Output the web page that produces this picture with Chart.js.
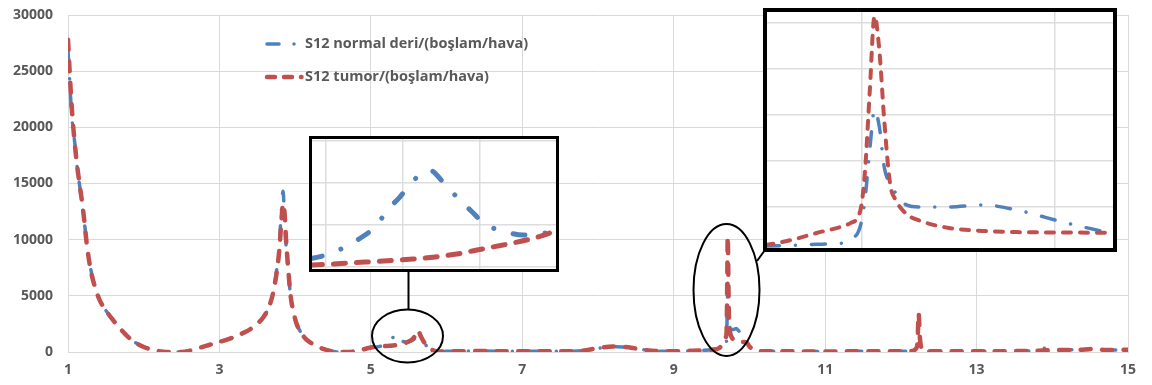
<!DOCTYPE html>
<html>
<head>
<meta charset="utf-8">
<script src="https://cdn.jsdelivr.net/npm/chart.js@4.4.1/dist/chart.umd.min.js"></script>
<style>
  html, body { margin: 0; padding: 0; background: #ffffff; }
  #wrap { position: relative; width: 1152px; height: 385px; }
  #main { position: absolute; left: 0; top: 0; }
  .inset { position: absolute; background: #ffffff; border: solid #000000; box-sizing: border-box; }
  .inset canvas { display: block; }
</style>
</head>
<body>
<div id="wrap">
  <canvas id="main" width="1152" height="385"></canvas>
  <div class="inset" id="box1" style="left:309px;top:136px;width:250px;height:136px;border-width:3px;">
    <canvas id="ins1" width="244" height="130"></canvas>
  </div>
  <div class="inset" id="box2" style="left:763px;top:8px;width:354px;height:244px;border-width:4px;">
    <canvas id="ins2" width="346" height="236"></canvas>
  </div>
</div>
<script>
// ---- data ----
const seriesNames = ["S12 normal deri/(boşlam/hava)", "S12 tumor/(boşlam/hava)"];

const xValues = [
  1.00, 1.02, 1.04, 1.06, 1.09, 1.12, 1.16, 1.20, 1.25, 1.30,
  1.36, 1.42, 1.50, 1.60, 1.70, 1.80, 1.90, 2.00, 2.10, 2.20,
  2.30, 2.40, 2.50, 2.60, 2.70, 2.80, 2.90, 3.00, 3.10, 3.20,
  3.30, 3.40, 3.50, 3.58, 3.64, 3.70, 3.75, 3.79, 3.82, 3.84,
  3.86, 3.88, 3.91, 3.94, 3.98, 4.02, 4.08, 4.15, 4.25, 4.35,
  4.45, 4.55, 4.70, 4.85, 5.00, 5.10, 5.18, 5.20, 5.225, 5.245,
  5.265, 5.28, 5.296, 5.313, 5.335, 5.352, 5.37, 5.39, 5.406, 5.43,
  5.456, 5.48, 5.50, 5.55, 5.59, 5.62, 5.66, 5.70, 5.75, 5.82,
  5.90, 6.00, 6.50, 7.00, 7.50, 7.80, 8.00, 8.20, 8.40, 8.60,
  8.80, 9.00, 9.20, 9.40, 9.50, 9.60, 9.63, 9.653, 9.679, 9.688,
  9.698, 9.703, 9.708, 9.713, 9.718, 9.723, 9.729, 9.735, 9.746, 9.76,
  9.79, 9.825, 9.86, 9.912, 9.943, 9.96, 10.00, 10.05, 10.10, 10.50,
  11.00, 11.50, 12.00, 12.15, 12.20, 12.22, 12.235, 12.25, 12.27, 12.32,
  12.50, 13.00, 13.50, 13.80, 13.96, 14.10, 14.40, 14.57, 14.70, 15.00
];

const normalValues = [
  26800, 24500, 22000, 20200, 18600, 16500, 14500, 12400, 9700, 7400,
  5700, 4600, 3700, 2800, 2000, 1300, 800, 450, 220, 80,
  10, 0, 0, 100, 300, 500, 700, 900, 1100, 1350,
  1650, 2000, 2500, 3100, 3800, 5000, 7000, 9500, 12800, 14300,
  12000, 9500, 7100, 5000, 3500, 2500, 1700, 1100, 650, 330,
  120, 10, 0, 150, 400, 480, 600, 643, 738, 845,
  988, 1179, 1333, 1524, 1650, 1512, 1333, 1155, 1012, 929,
  881, 900, 920, 1050, 1250, 1350, 1100, 800, 450, 150,
  40, 60, 80, 60, 60, 120, 330, 480, 420, 200,
  80, 60, 100, 150, 200, 300, 340, 380, 430, 600,
  1130, 2300, 4480, 6220, 5480, 3740, 3000, 2600, 2090, 2000,
  2000, 2090, 1870, 1300, 1000, 850, 600, 220, 80, 60,
  50, 60, 60, 100, 280, 700, 2800, 1300, 380, 100,
  60, 60, 80, 120, 450, 200, 200, 250, 180, 200
];

const tumorValues = [
  27800, 25200, 22800, 20800, 18500, 16600, 14600, 12600, 9500, 7300,
  5700, 4600, 3700, 2800, 2000, 1300, 800, 450, 220, 80,
  10, 0, 0, 100, 300, 500, 700, 900, 1100, 1350,
  1650, 2000, 2500, 3100, 3800, 5000, 6800, 9000, 11800, 13200,
  12400, 10000, 7300, 5000, 3500, 2500, 1700, 1100, 650, 330,
  120, 10, 0, 150, 400, 480, 524, 530, 545, 555,
  565, 573, 583, 595, 612, 632, 655, 690, 720, 762,
  812, 870, 940, 1150, 1500, 1950, 1400, 900, 500, 150,
  40, 60, 80, 60, 60, 120, 350, 500, 420, 200,
  80, 60, 100, 150, 200, 350, 600, 870, 1150, 1300,
  1800, 3500, 7000, 10300, 8800, 5800, 3040, 2300, 1700, 1400,
  1090, 960, 910, 890, 880, 860, 500, 200, 80, 60,
  50, 60, 60, 100, 300, 800, 3450, 1400, 400, 100,
  60, 60, 80, 120, 150, 180, 200, 280, 180, 200
];

const xTicks = [1, 3, 5, 7, 9, 11, 13, 15];
const yTicks = [0, 5000, 10000, 15000, 20000, 25000, 30000];

// zoomed views (insets): visible ranges and their grid positions
const inset1XRange = [5.182, 5.4987];
const inset1YRange = [476, 2024];
const inset1XGrid = [5.2, 5.3, 5.4, 5.5];
const inset1YGrid = [500, 1000, 1500, 2000];
const inset2XRange = [9.6016, 9.960];
const inset2YRange = [217, 10478];
const inset2XGrid = [9.7, 9.9];
const inset2YGrid = [2000, 4000, 6000, 8000, 10000];

// ---- build ----
const BLUE = '#4f81bd';
const RED = '#c0504d';
const TEXT = '#595959';
const GRID = '#d9d9d9';

const normalPts = xValues.map((x, i) => ({ x: x, y: normalValues[i] }));
const tumorPts = xValues.map((x, i) => ({ x: x, y: tumorValues[i] }));

function makeDatasets(bw, bdash, rw, rdash) {
  return [
    { label: seriesNames[0], data: normalPts, borderColor: BLUE, borderWidth: bw,
      borderDash: bdash, borderCapStyle: 'round', borderJoinStyle: 'round',
      pointRadius: 0, cubicInterpolationMode: 'monotone', order: 1, fill: false },
    { label: seriesNames[1], data: tumorPts, borderColor: RED, borderWidth: rw,
      borderDash: rdash, borderCapStyle: 'round', borderJoinStyle: 'round',
      pointRadius: 0, cubicInterpolationMode: 'monotone', order: 0, fill: false }
  ];
}

const mainDash = { blue: [12, 16, 0.01, 16], red: [10, 11.5] };

const overlayPlugin = {
  id: 'overlay',
  afterDatasetsDraw(chart) {
    const ctx = chart.ctx;
    ctx.save();
    // legend
    const rows = [
      { y: 44, color: BLUE, width: 3.5, dash: [12, 15, 0.01, 30], x0: 267, x1: 296, text: seriesNames[0] },
      { y: 77, color: RED, width: 4.5, dash: [8, 9], x0: 267, x1: 301.5, text: seriesNames[1] }
    ];
    rows.forEach(r => {
      ctx.beginPath();
      ctx.strokeStyle = r.color;
      ctx.lineWidth = r.width;
      ctx.lineCap = 'round';
      ctx.setLineDash(r.dash);
      ctx.moveTo(r.x0, r.y);
      ctx.lineTo(r.x1, r.y);
      ctx.stroke();
      ctx.setLineDash([]);
      ctx.fillStyle = TEXT;
      ctx.font = 'bold 14.5px "Open Sans"';
      ctx.textBaseline = 'middle';
      ctx.textAlign = 'left';
      ctx.fillText(r.text, 305, r.y);
    });
    // ellipses and connectors
    ctx.strokeStyle = '#000000';
    ctx.lineWidth = 2;
    ctx.lineCap = 'butt';
    ctx.beginPath();
    ctx.ellipse(407.5, 336, 35.5, 26.5, 0, 0, Math.PI * 2);
    ctx.stroke();
    ctx.beginPath();
    ctx.moveTo(408.5, 309.5);
    ctx.lineTo(408.5, 271);
    ctx.stroke();
    ctx.beginPath();
    ctx.ellipse(726.5, 290, 33, 66, 0, 0, Math.PI * 2);
    ctx.stroke();
    ctx.beginPath();
    ctx.moveTo(757, 261);
    ctx.lineTo(765, 250);
    ctx.stroke();
    ctx.restore();
  }
};

new Chart(document.getElementById('main'), {
  type: 'line',
  data: { datasets: makeDatasets(3.5, mainDash.blue, 4.5, mainDash.red) },
  options: {
    responsive: false,
    animation: false,
    events: [],
    layout: { padding: { top: 15, right: 24, left: 0, bottom: 0 } },
    plugins: { legend: { display: false }, tooltip: { enabled: false } },
    scales: {
      x: {
        type: 'linear', min: 1, max: 15,
        afterBuildTicks: s => { s.ticks = xTicks.map(v => ({ value: v })); },
        afterFit: s => { s.height = 33; s.paddingLeft = 0; s.paddingRight = 0; },
        grid: { color: GRID, lineWidth: 1, drawTicks: false },
        border: { color: GRID, width: 1 },
        ticks: { color: TEXT, font: { family: '"Open Sans"', size: 14, weight: 'bold' }, padding: 10, maxRotation: 0,
                 callback: v => String(v) }
      },
      y: {
        type: 'linear', min: 0, max: 30000,
        afterBuildTicks: s => { s.ticks = yTicks.map(v => ({ value: v })); },
        afterFit: s => { s.width = 68; s.paddingTop = 0; s.paddingBottom = 0; },
        grid: { color: GRID, lineWidth: 1, drawTicks: false },
        border: { color: GRID, width: 1 },
        ticks: { color: TEXT, font: { family: '"Open Sans"', size: 14, weight: 'bold' }, padding: 15,
                 callback: v => String(v) }
      }
    }
  },
  plugins: [overlayPlugin]
});

function insetChart(id, xr, yr, xg, yg, bw, bdash, rw, rdash) {
  return new Chart(document.getElementById(id), {
    type: 'line',
    data: { datasets: makeDatasets(bw, bdash, rw, rdash) },
    options: {
      responsive: false,
      animation: false,
      events: [],
      layout: { padding: 0 },
      plugins: { legend: { display: false }, tooltip: { enabled: false } },
      scales: {
        x: {
          type: 'linear', min: xr[0], max: xr[1],
          afterBuildTicks: s => { s.ticks = xg.map(v => ({ value: v })); },
          afterFit: s => { s.height = 0; },
          grid: { color: '#dddddd', lineWidth: 1.5, drawTicks: false },
          border: { display: false },
          ticks: { display: false }
        },
        y: {
          type: 'linear', min: yr[0], max: yr[1],
          afterBuildTicks: s => { s.ticks = yg.map(v => ({ value: v })); },
          afterFit: s => { s.width = 0; },
          grid: { color: '#dddddd', lineWidth: 1.5, drawTicks: false },
          border: { display: false },
          ticks: { display: false }
        }
      }
    }
  });
}

insetChart('ins1', inset1XRange, inset1YRange, inset1XGrid, inset1YGrid,
  5, [12, 20, 0.01, 20], 5, [12, 11]);
insetChart('ins2', inset2XRange, inset2YRange, inset2XGrid, inset2YGrid,
  3.5, [14, 16, 0.01, 16], 4, [8, 9]);
</script>
</body>
</html>
